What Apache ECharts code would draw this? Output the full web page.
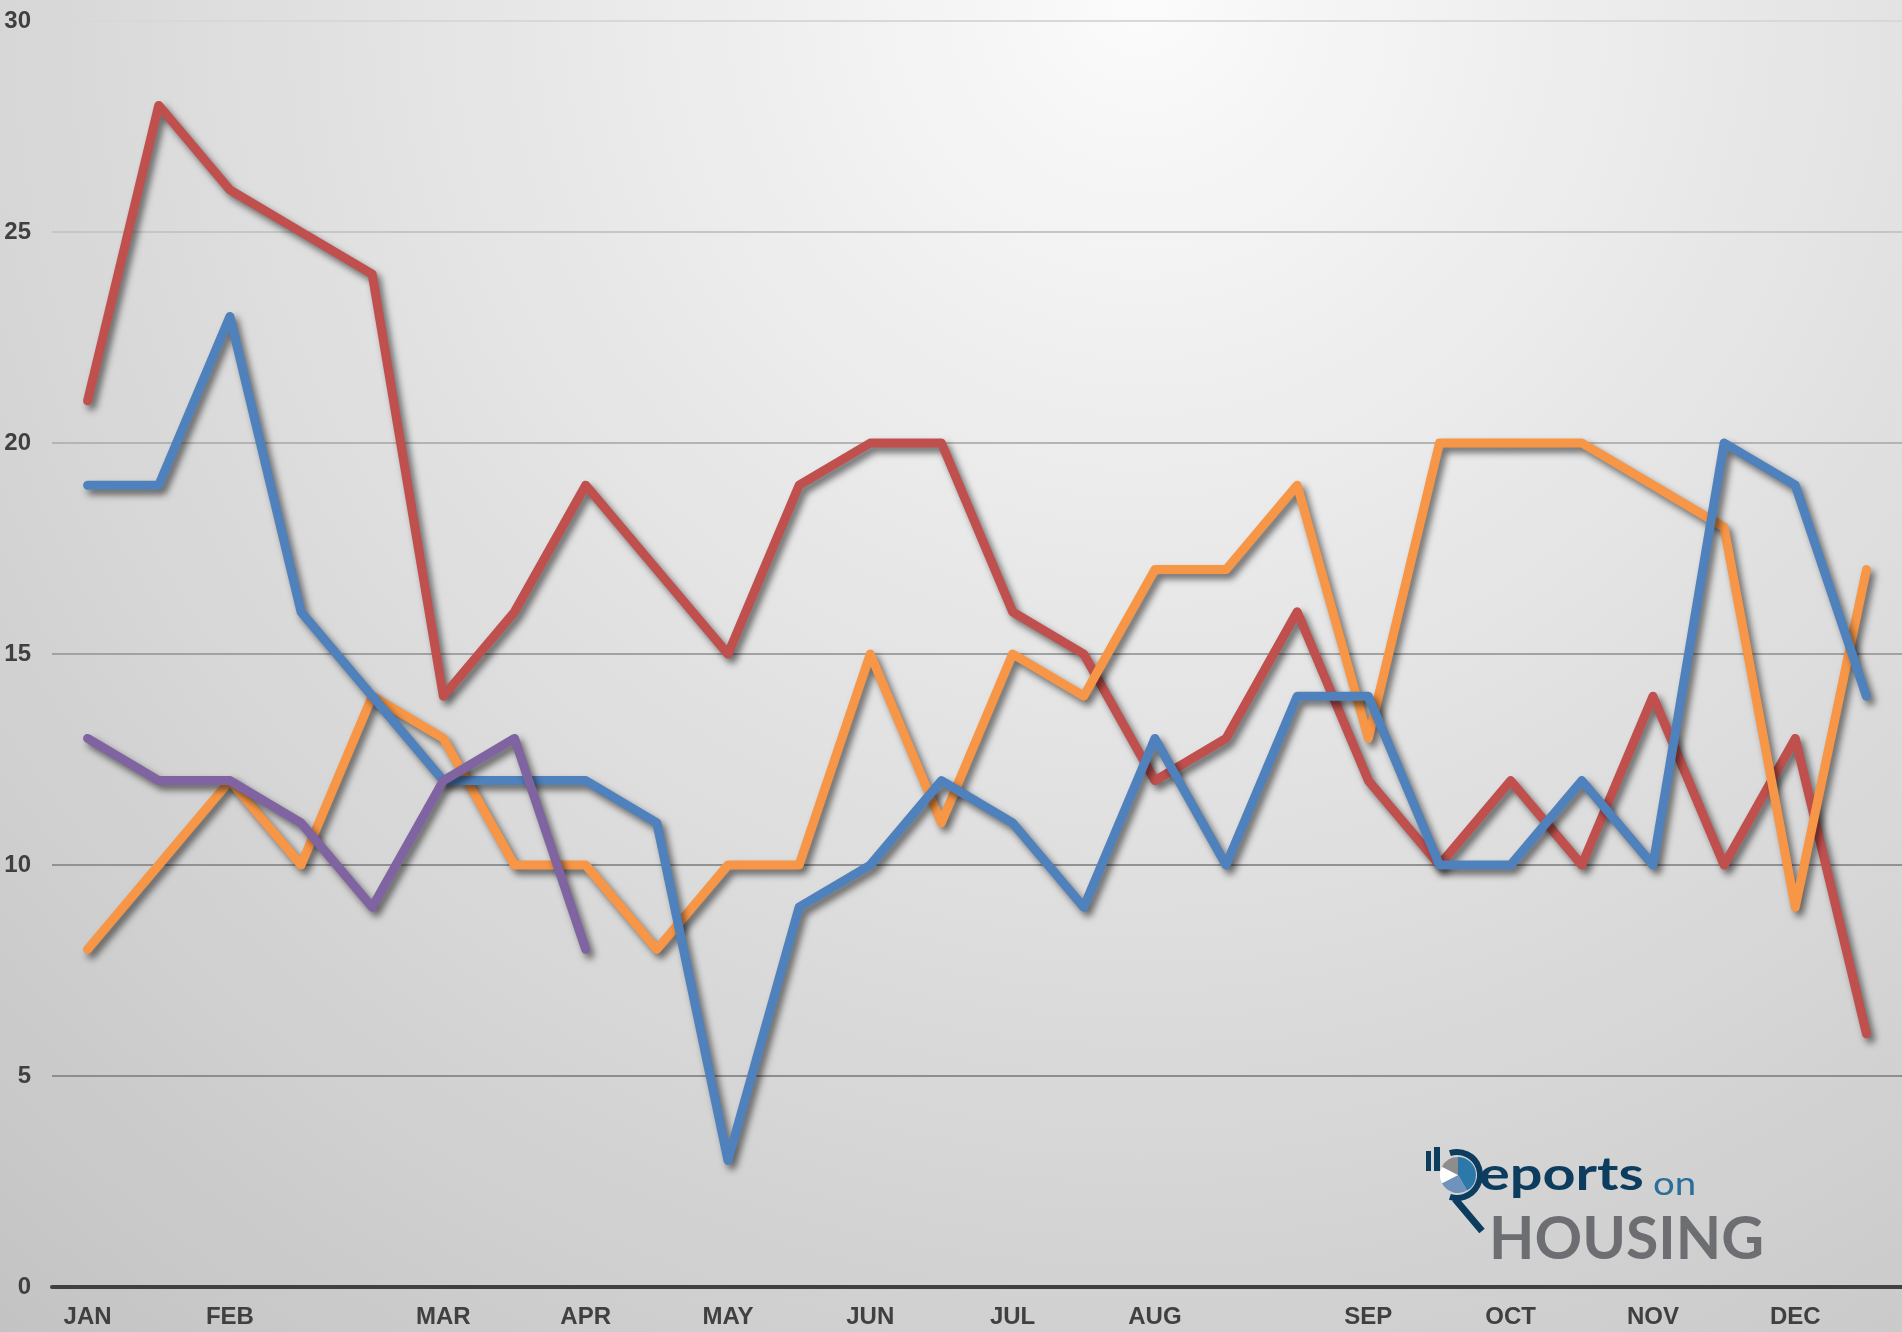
<!DOCTYPE html>
<html>
<head>
<meta charset="utf-8">
<title>Reports on Housing</title>
<script src="https://cdn.jsdelivr.net/npm/echarts@6/dist/echarts.min.js"></script>
<style>
  html, body { margin: 0; padding: 0; }
  #chart { width: 1902px; height: 1332px; }
</style>
</head>
<body>
<div id="chart"></div>
<script>
// x categories: two points per month, label only on the month start
const months = ['JAN', '', 'FEB', '', '', 'MAR', '', 'APR', '', 'MAY', '', 'JUN', '', 'JUL', '', 'AUG', '', '', 'SEP', '', 'OCT', '', 'NOV', '', 'DEC', ''];

const redData = [21, 28, 26, 25, 24, 14, 16, 19, 17, 15, 19, 20, 20, 16, 15, 12, 13, 16, 12, 10, 12, 10, 14, 10, 13, 6];
const orangeData = [8, 10, 12, 10, 14, 13, 10, 10, 8, 10, 10, 15, 11, 15, 14, 17, 17, 19, 13, 20, 20, 20, 19, 18, 9, 17];
const blueData = [19, 19, 23, 16, 14, 12, 12, 12, 11, 3, 9, 10, 12, 11, 9, 13, 10, 14, 14, 10, 10, 12, 10, 20, 19, 14];
const purpleData = [13, 12, 12, 11, 9, 12, 13, 8];

const yTicks = [0, 5, 10, 15, 20, 25, 30];

function makeLine(name, color, data) {
  return {
    name: name,
    type: 'line',
    data: data,
    showSymbol: false,
    symbol: 'none',
    lineStyle: {
      color: color,
      width: 9,
      cap: 'round',
      join: 'round',
      shadowColor: 'rgba(0,0,0,0.55)',
      shadowBlur: 7,
      shadowOffsetX: 4,
      shadowOffsetY: 5,
    },
  };
}

const chart = echarts.init(document.getElementById('chart'));

const options = {
  animation: false,
  backgroundColor: new echarts.graphic.RadialGradient(0.6, 0, 1.32, [
    { offset: 0, color: '#fbfbfb' },
    { offset: 1, color: '#c3c3c3' },
  ]),
  grid: {
    left: 52,
    right: 0,
    top: 21,
    bottom: 45,
  },
  xAxis: {
    type: 'category',
    data: months,
    boundaryGap: true,
    axisTick: { show: false },
    axisLine: {
      lineStyle: { color: '#404040', width: 4 },
    },
    axisLabel: {
      interval: 0,
      margin: 18,
      color: '#404040',
      fontFamily: 'Liberation Sans, Arial, sans-serif',
      fontWeight: 'bold',
      fontSize: 24,
    },
  },
  yAxis: {
    type: 'value',
    min: yTicks[0],
    max: yTicks[yTicks.length - 1],
    interval: 5,
    axisLine: { show: false },
    axisTick: { show: false },
    axisLabel: {
      margin: 21,
      color: '#404040',
      fontFamily: 'Liberation Sans, Arial, sans-serif',
      fontWeight: 'bold',
      fontSize: 24,
    },
    splitLine: {
      lineStyle: {
        // lines get lighter towards the top, like the original
        color: ['#404040', '#8e8e8e', '#929292', '#a2a2a2', '#b4b4b4', '#c6c6c6', '#d8d8d8'],
        width: 2,
      },
    },
  },
  series: [
    makeLine('red', '#c0504d', redData),
    makeLine('orange', '#f79646', orangeData),
    makeLine('blue', '#4f81bd', blueData),
    makeLine('purple', '#8064a2', purpleData),
  ],
  graphic: [
    // Reports on HOUSING logo, bottom right
    { type: 'rect', shape: { x: 1426, y: 1151, width: 5, height: 20 }, style: { fill: '#0c3c5e' }, z: 1 },
    { type: 'rect', shape: { x: 1434, y: 1147, width: 6, height: 24 }, style: { fill: '#0c3c5e' }, z: 1 },
    { type: 'sector', shape: { cx: 1458, cy: 1175, r: 18, r0: 0, startAngle: -Math.PI / 2, endAngle: Math.PI / 3 }, style: { fill: '#2c78a8' }, z: 1 },
    { type: 'sector', shape: { cx: 1458, cy: 1175, r: 18, r0: 0, startAngle: Math.PI / 3, endAngle: Math.PI * 0.85 }, style: { fill: '#6f93bb' }, z: 1 },
    { type: 'sector', shape: { cx: 1458, cy: 1175, r: 18, r0: 0, startAngle: Math.PI * 0.85, endAngle: Math.PI * 1.15 }, style: { fill: '#ffffff' }, z: 1 },
    { type: 'sector', shape: { cx: 1458, cy: 1175, r: 18, r0: 0, startAngle: Math.PI * 1.15, endAngle: Math.PI * 1.5 }, style: { fill: '#8d8d8d' }, z: 1 },
    { type: 'arc', shape: { cx: 1457, cy: 1175, r: 23, startAngle: -Math.PI * 0.6, endAngle: Math.PI * 0.6 }, style: { stroke: '#0c3c5e', lineWidth: 6, fill: null }, z: 1 },
    { type: 'line', shape: { x1: 1455, y1: 1199, x2: 1482, y2: 1231 }, style: { stroke: '#0c3c5e', lineWidth: 7 }, z: 1 },
    {
      type: 'text', x: 1479, y: 1198, scaleX: 1.28, z: 1,
      style: { text: 'eports', fill: '#0c3c5e', font: 'bold 45px Lato, sans-serif', verticalAlign: 'bottom' },
    },
    {
      type: 'text', x: 1653, y: 1201, scaleX: 1.2, z: 1,
      style: { text: 'on', fill: '#2a6f9a', font: '32px Lato, sans-serif', verticalAlign: 'bottom' },
    },
    {
      type: 'text', x: 1489, y: 1240, z: 1,
      style: { text: 'HOUSING', fill: '#6d6e71', font: 'bold 59px Lato, sans-serif', verticalAlign: 'middle' },
    },
  ],
};

chart.setOption(options);
</script>
</body>
</html>
